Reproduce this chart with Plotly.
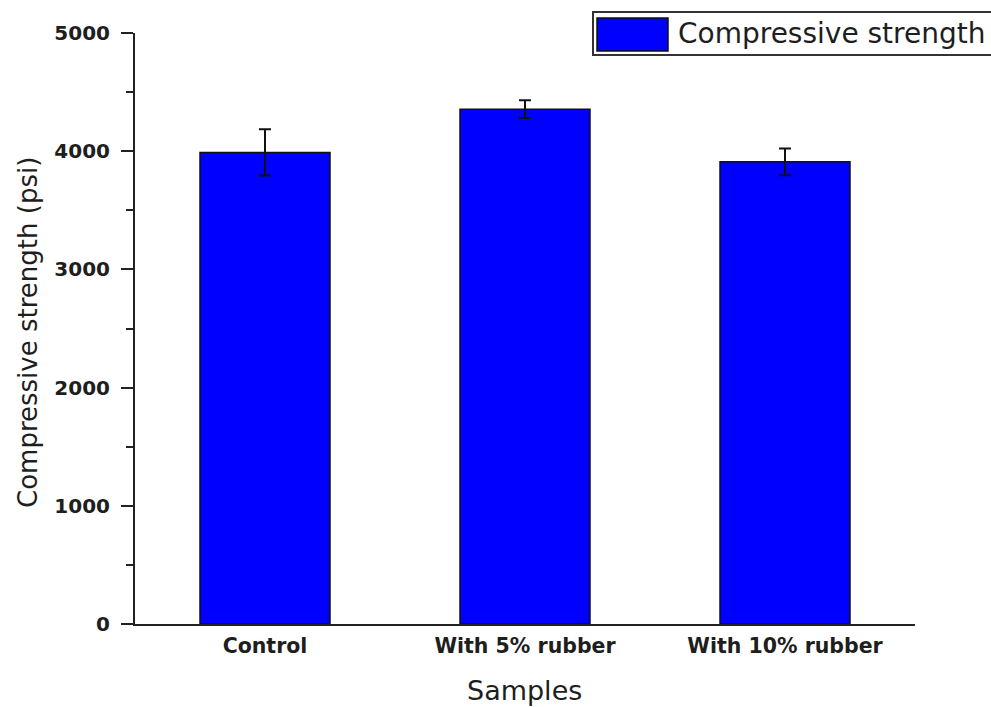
import plotly.graph_objects as go

# Compressive strength of concrete samples (psi), mean and standard deviation
categories = ["Control", "With 5% rubber", "With 10% rubber"]
strength = [3990, 4355, 3910]
strength_sd = [195, 75, 113]

y_ticks = [0, 1000, 2000, 3000, 4000, 5000]

TEXT = "#1e1e1e"
AXIS = "#222222"
BLUE = "#0000FF"

W, H = 991, 707
ML, MR, MT, MB = 135, 76, 33, 83
PW, PH = W - ML - MR, H - MT - MB


def px_x(p):
    return (p - ML) / PW


def px_y(p):
    return (H - MB - p) / PH


fig = go.Figure()
fig.add_trace(go.Bar(
    x=categories,
    y=strength,
    width=0.5,
    marker=dict(color=BLUE, line=dict(color="#111111", width=1.5)),
    error_y=dict(type="data", array=strength_sd, color="#111111",
                 thickness=2, width=6),
    showlegend=False,
))

fig.update_layout(
    width=W, height=H,
    margin=dict(l=ML, r=MR, t=MT, b=MB, autoexpand=False),
    plot_bgcolor="white", paper_bgcolor="white",
    font=dict(family="DejaVu Sans", color=TEXT),
    xaxis=dict(
        range=[-0.5, 2.5],
        showline=True, linecolor=AXIS, linewidth=2,
        ticks="", showgrid=False, zeroline=False,
        tickfont=dict(family="DejaVu Sans", size=20.5, color=TEXT,
                      weight="bold"),
        ticklabelstandoff=2,
    ),
    yaxis=dict(
        range=[0, 5000],
        tickvals=y_ticks,
        showline=True, linecolor=AXIS, linewidth=2,
        ticks="outside", ticklen=12, tickwidth=1.6, tickcolor=AXIS,
        minor=dict(dtick=500, ticks="outside", ticklen=7, tickwidth=1.6,
                   tickcolor=AXIS, showgrid=False),
        showgrid=False, zeroline=False,
        tickfont=dict(family="DejaVu Sans", size=20, color=TEXT,
                      weight="bold"),
        ticklabelstandoff=7,
    ),
    bargap=0.5,
)

# Axis titles
fig.add_annotation(
    text="Compressive strength (psi)", textangle=-90,
    xref="paper", yref="paper", x=px_x(28), y=px_y(333),
    xanchor="center", yanchor="middle", showarrow=False,
    font=dict(family="DejaVu Sans", size=26, color=TEXT),
)
fig.add_annotation(
    text="Samples",
    xref="paper", yref="paper", x=px_x(524), y=px_y(690),
    xanchor="center", yanchor="middle", showarrow=False,
    font=dict(family="DejaVu Sans", size=27, color=TEXT),
)

# Legend box with a wide colour swatch
fig.add_shape(type="rect", xref="paper", yref="paper",
              x0=px_x(593), x1=px_x(1010), y0=px_y(55), y1=px_y(12),
              line=dict(color="#333333", width=2), fillcolor="white",
              layer="above")
fig.add_shape(type="rect", xref="paper", yref="paper",
              x0=px_x(597), x1=px_x(668), y0=px_y(51), y1=px_y(18),
              line=dict(color="#111111", width=1.5), fillcolor=BLUE,
              layer="above")
fig.add_annotation(
    text="Compressive strength",
    xref="paper", yref="paper", x=px_x(676), y=px_y(34),
    xanchor="left", yanchor="middle", showarrow=False,
    font=dict(family="DejaVu Sans", size=28, color=TEXT),
)

fig.write_html("out.html")
